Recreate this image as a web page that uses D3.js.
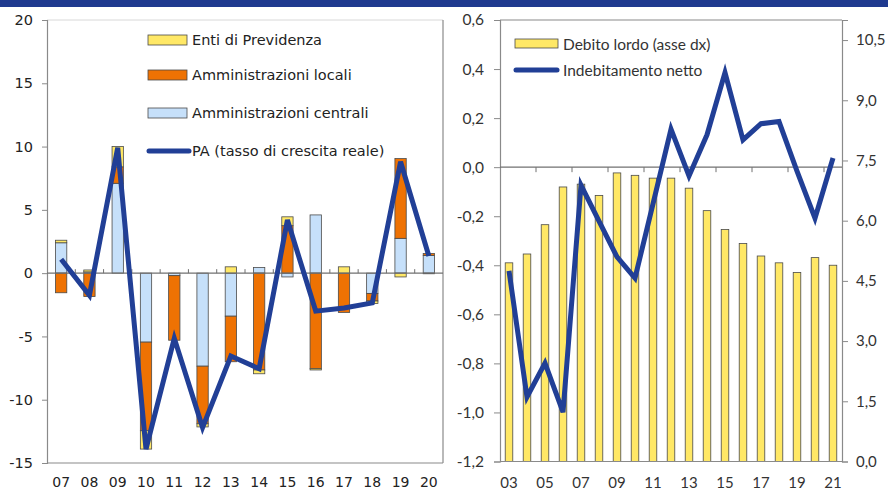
<!DOCTYPE html>
<html><head><meta charset="utf-8">
<script src="https://cdn.jsdelivr.net/npm/d3@7/dist/d3.min.js"></script>
<style>
html,body{margin:0;padding:0;background:#fff;}
svg{display:block;}
</style></head>
<body>
<svg id="chart" width="888" height="491"></svg>
<script>
// ---------- Left chart data ----------
const yearsL = ['07','08','09','10','11','12','13','14','15','16','17','18','19','20'];
const centrali = [2.4, 0.1, 7.1, -5.45, -0.2, -7.35, -3.4, 0.45, -0.3, 4.6, 0.0, -1.6, 2.75, 1.4];
const locali   = [-1.55, -1.85, 1.3, -7.0, -5.1, -4.55, -3.6, -7.65, 3.75, -7.55, -3.1, -0.6, 6.3, 0.15];
const enti     = [0.2, 0.15, 1.6, -1.45, 0.0, -0.25, 0.5, -0.3, 0.7, -0.1, 0.5, -0.2, -0.3, -0.05];
const paGrowth = [1.1, -1.75, 9.9, -13.9, -5.15, -12.2, -6.55, -7.55, 4.2, -3.0, -2.75, -2.35, 8.8, 1.35];
const ticksL = [-15, -10, -5, 0, 5, 10, 15, 20];
const legendL = ['Enti di Previdenza', 'Amministrazioni locali', 'Amministrazioni centrali', 'PA (tasso di crescita reale)'];

// ---------- Right chart data ----------
const yearsR = ['03','04','05','06','07','08','09','10','11','12','13','14','15','16','17','18','19','20','21'];
const debitoLordo = [4.95, 5.17, 5.90, 6.84, 6.91, 6.63, 7.19, 7.13, 7.06, 7.06, 6.81, 6.25, 5.78, 5.43, 5.12, 4.95, 4.71, 5.08, 4.89];
const indebNetto = [-0.423, -0.937, -0.799, -0.999, -0.073, -0.22, -0.366, -0.452, -0.15, 0.155, -0.036, 0.132, 0.386, 0.111, 0.177, 0.186, -0.016, -0.208, 0.037];
const ticksRLeft = [-1.2, -1.0, -0.8, -0.6, -0.4, -0.2, 0.0, 0.2, 0.4, 0.6];
const ticksRRight = [0, 1.5, 3.0, 4.5, 6.0, 7.5, 9.0, 10.5];
const legendR = ['Debito lordo (asse dx)', 'Indebitamento netto'];

const C_BLUE_LIGHT = '#c6e0fa', C_ORANGE = '#ee7203', C_YELLOW = '#ffe866', C_LINE = '#213f96', C_AXIS = '#8a8a8a';
const fmt = d => d3.format('.1f')(d).replace('.', ',').replace('−','-');

const svg = d3.select('#chart');

// Banner
svg.append('rect').attr('x',0).attr('y',0).attr('width',888).attr('height',7).attr('fill','#1f3a8f');

// ================= LEFT CHART =================
(function(){
  const L = 47, R = 443, T = 20, B = 463;
  const fontL = 'DejaVu Sans';
  const x = d3.scaleBand().domain(yearsL).range([L, R]).paddingInner(0.6).paddingOuter(0.3);
  const y = d3.scaleLinear().domain([-15, 20]).range([B, T]);
  const g = svg.append('g');

  const rows = yearsL.map((yr, i) => ({year: yr, centrali: centrali[i], locali: locali[i], enti: enti[i]}));
  const keys = ['centrali', 'locali', 'enti'];
  const colors = {centrali: C_BLUE_LIGHT, locali: C_ORANGE, enti: C_YELLOW};
  const stack = d3.stack().keys(keys).offset(d3.stackOffsetDiverging)(rows);

  stack.forEach(layer => {
    g.append('g').selectAll('rect').data(layer).join('rect')
      .attr('x', d => x(d.data.year))
      .attr('width', x.bandwidth())
      .attr('y', d => y(Math.max(d[0], d[1])))
      .attr('height', d => Math.abs(y(d[0]) - y(d[1])))
      .attr('fill', colors[layer.key])
      .attr('stroke', '#4a4a4a').attr('stroke-width', 0.8);
  });

  // frame
  g.append('line').attr('x1',L).attr('x2',R).attr('y1',T).attr('y2',T).attr('stroke','#d8d8d8');
  g.append('line').attr('x1',R).attr('x2',R).attr('y1',T).attr('y2',B).attr('stroke',C_AXIS).attr('stroke-width',1.2);
  g.append('line').attr('x1',L).attr('x2',R).attr('y1',B).attr('y2',B).attr('stroke',C_AXIS).attr('stroke-width',1.2);

  // y axis
  const ay = d3.axisLeft(y).tickValues(ticksL).tickSize(5).tickPadding(9).tickFormat(d => String(d).replace('−','-'));
  const gy = g.append('g').attr('transform', `translate(${L},0)`).call(ay);
  gy.select('.domain').attr('stroke', C_AXIS).attr('stroke-width', 1.2);
  gy.selectAll('.tick line').attr('stroke', C_AXIS);
  gy.selectAll('.tick text').attr('font-family', fontL).attr('font-size', 14.5).attr('fill', '#222');

  // zero line with upward ticks at category boundaries
  g.append('line').attr('x1',L).attr('x2',R).attr('y1',y(0)).attr('y2',y(0)).attr('stroke','#707070').attr('stroke-width',1.2);
  const step = x.step();
  yearsL.slice(1).forEach((yr) => {
    const bx = x(yr) - (step - x.bandwidth())/2;
    g.append('line').attr('x1',bx).attr('x2',bx).attr('y1',y(0)).attr('y2',y(0)-4).attr('stroke','#707070');
  });

  // x labels
  g.append('g').selectAll('text').data(yearsL).join('text')
    .attr('x', d => x(d) + x.bandwidth()/2).attr('y', 482)
    .attr('text-anchor','middle').attr('dominant-baseline','central')
    .attr('font-family', fontL).attr('font-size', 14).attr('fill','#222')
    .text(d => d);

  // line
  const line = d3.line().x((d,i) => x(yearsL[i]) + x.bandwidth()/2).y(d => y(d));
  g.append('path').datum(paGrowth).attr('d', line).attr('fill','none')
    .attr('stroke', C_LINE).attr('stroke-width', 5).attr('stroke-linejoin','miter');

  // legend
  const ly = [40, 75, 113, 151];
  const lcol = [C_YELLOW, C_ORANGE, C_BLUE_LIGHT];
  lcol.forEach((c, i) => {
    g.append('rect').attr('x',148).attr('y',ly[i]-5).attr('width',39).attr('height',10)
      .attr('fill',c).attr('stroke','#4a4a4a').attr('stroke-width',0.8);
  });
  g.append('line').attr('x1',149).attr('x2',189).attr('y1',ly[3]).attr('y2',ly[3])
    .attr('stroke',C_LINE).attr('stroke-width',5).attr('stroke-linecap','round');
  legendL.forEach((t, i) => {
    g.append('text').attr('x',192).attr('y',ly[i]).attr('dominant-baseline','central')
      .attr('font-family', fontL).attr('font-size', 14.5).attr('fill','#222').text(t);
  });
})();

// ================= RIGHT CHART =================
(function(){
  const L = 500, R = 842, T = 20, B = 461.5;
  const fontR = 'Lato';
  const x = d3.scaleBand().domain(yearsR).range([L, R]).paddingInner(0.58).paddingOuter(0.29);
  const yL = d3.scaleLinear().domain([-1.2, 0.6]).range([B, T]);
  const yR = d3.scaleLinear().domain([0, 11]).range([B, T]);
  const g = svg.append('g');

  // bars
  g.append('g').selectAll('rect').data(debitoLordo).join('rect')
    .attr('x', (d,i) => x(yearsR[i])).attr('width', x.bandwidth())
    .attr('y', d => yR(d)).attr('height', d => yR(0) - yR(d))
    .attr('fill', C_YELLOW).attr('stroke','#4a4a4a').attr('stroke-width',0.8);

  // frame
  g.append('line').attr('x1',L).attr('x2',R).attr('y1',T).attr('y2',T).attr('stroke',C_AXIS).attr('stroke-width',1.2);
  g.append('line').attr('x1',L).attr('x2',R).attr('y1',B).attr('y2',B).attr('stroke',C_AXIS).attr('stroke-width',1.2);

  // left axis
  const ayl = d3.axisLeft(yL).tickValues(ticksRLeft).tickSize(6).tickPadding(10).tickFormat(fmt);
  const gyl = g.append('g').attr('transform', `translate(${L},0)`).call(ayl);
  gyl.select('.domain').attr('stroke', C_AXIS).attr('stroke-width', 1.2);
  gyl.selectAll('.tick line').attr('stroke', C_AXIS);
  gyl.selectAll('.tick text').attr('font-family', fontR).attr('font-size', 15.5).attr('fill', '#333');

  // right axis
  const ayr = d3.axisRight(yR).tickValues(ticksRRight).tickSize(6).tickPadding(8).tickFormat(fmt);
  const gyr = g.append('g').attr('transform', `translate(${R},0)`).call(ayr);
  gyr.select('.domain').attr('stroke', C_AXIS).attr('stroke-width', 1.2);
  gyr.selectAll('.tick line').attr('stroke', C_AXIS);
  gyr.selectAll('.tick text').attr('font-family', fontR).attr('font-size', 15).attr('fill', '#333');

  // zero line with downward ticks every 2 categories
  const y0 = yL(0);
  g.append('line').attr('x1',L).attr('x2',R).attr('y1',y0).attr('y2',y0).attr('stroke','#707070').attr('stroke-width',1.2);
  const step = x.step();
  yearsR.forEach((yr, i) => {
    if (i > 0 && i % 2 === 0) {
      const bx = x(yr) - (step - x.bandwidth())/2;
      g.append('line').attr('x1',bx).attr('x2',bx).attr('y1',y0).attr('y2',y0+5).attr('stroke','#707070');
    }
  });

  // x labels every other year
  g.append('g').selectAll('text').data(yearsR.filter((d,i) => i % 2 === 0)).join('text')
    .attr('x', d => x(d) + x.bandwidth()/2).attr('y', 482)
    .attr('text-anchor','middle').attr('dominant-baseline','central')
    .attr('font-family', fontR).attr('font-size', 15).attr('fill','#333')
    .text(d => d);

  // line
  const line = d3.line().x((d,i) => x(yearsR[i]) + x.bandwidth()/2).y(d => yL(d));
  g.append('path').datum(indebNetto).attr('d', line).attr('fill','none')
    .attr('stroke', C_LINE).attr('stroke-width', 5).attr('stroke-linejoin','miter');

  // legend
  g.append('rect').attr('x',515).attr('y',39).attr('width',43).attr('height',9)
    .attr('fill',C_YELLOW).attr('stroke','#4a4a4a').attr('stroke-width',0.8);
  g.append('line').attr('x1',516).attr('x2',557).attr('y1',70).attr('y2',70)
    .attr('stroke',C_LINE).attr('stroke-width',5).attr('stroke-linecap','round');
  [43.5, 70].forEach((yy, i) => {
    g.append('text').attr('x',563).attr('y',yy).attr('dominant-baseline','central')
      .attr('font-family', fontR).attr('font-size', 15.5).attr('fill','#333').text(legendR[i]);
  });
})();
</script>
</body></html>
